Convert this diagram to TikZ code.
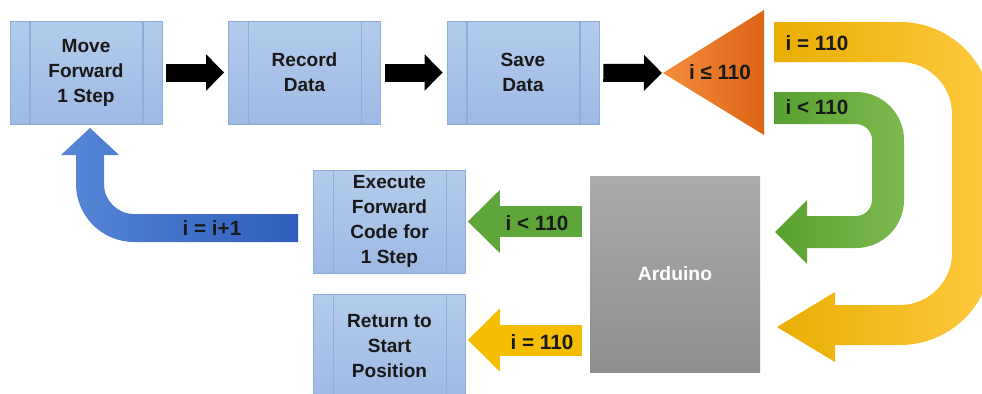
\documentclass[tikz,border=0pt]{standalone}
\usepackage{fontspec}
\setmainfont{Liberation Sans}
\usetikzlibrary{arrows.meta,positioning}

\definecolor{boxtop}{HTML}{B3CCEC}
\definecolor{boxbot}{HTML}{9DBAE3}
\definecolor{boxline}{HTML}{8DAEDA}
\definecolor{boardtop}{HTML}{ABABAB}
\definecolor{boardbot}{HTML}{8E8E8E}
\definecolor{condleft}{HTML}{F38D3C}
\definecolor{condright}{HTML}{DD6416}
\definecolor{goldleft}{HTML}{E8AE00}
\definecolor{goldright}{HTML}{FFC940}
\definecolor{leafleft}{HTML}{57A02F}
\definecolor{leafright}{HTML}{7CB94E}
\definecolor{skyleft}{HTML}{5787D6}
\definecolor{skyright}{HTML}{2F5DBD}
\definecolor{leaf}{HTML}{5EA63A}
\definecolor{gold}{HTML}{F5BD00}

\begin{document}
\begin{tikzpicture}[
  x=0.75pt, y=-0.75pt,
  every node/.style={align=center, inner sep=0pt, text=black!90,
    font=\bfseries\fontsize{14.3}{18.75}\selectfont},
  stepbox/.style={rectangle, draw=boxline, top color=boxtop, bottom color=boxbot,
    minimum width=114pt, minimum height=77.25pt,
    path picture={\draw[boxline, line width=0.8pt]
      ([xshift=15pt]path picture bounding box.north west) -- ([xshift=15pt]path picture bounding box.south west)
      ([xshift=-14.25pt]path picture bounding box.north east) -- ([xshift=-14.25pt]path picture bounding box.south east);}},
  board/.style={rectangle, top color=boardtop, bottom color=boardbot,
    minimum width=127.5pt, minimum height=147pt, text=white,
    font=\bfseries\fontsize{14.5}{17}\selectfont},
  pusharrow/.style={draw=black, line width=13.5pt,
    -{Triangle[length=13.5pt, width=26.25pt]}, shorten <=3pt, shorten >=3pt},
  sidearrow/.style={line width=23.25pt,
    -{Triangle[length=24pt, width=45.75pt]}, shorten <=6pt, shorten >=1.5pt},
  tag/.style={font=\bfseries\fontsize{15.5}{18}\selectfont}
]
\useasboundingbox (0,0) rectangle (982,393);
\clip (0,0) rectangle (982,393);

\path[left color=goldleft, right color=goldright]
  (774,22) -- (900,22) arc[start angle=90, end angle=0, radius=69pt]
  -- (992,253) arc[start angle=0, end angle=-90, radius=69pt]
  -- (835,345) -- (835,362) -- (777,327) -- (835,292) -- (835,305)
  -- (900,305) arc[start angle=-90, end angle=0, radius=39pt]
  -- (952,114) arc[start angle=0, end angle=90, radius=39pt]
  -- (774,62) -- cycle;
\path[left color=leafleft, right color=leafright]
  (774,92) -- (856,92) arc[start angle=90, end angle=0, radius=36pt]
  -- (904,200) arc[start angle=0, end angle=-90, radius=36pt]
  -- (807,248) -- (807,264) -- (775,232) -- (807,200) -- (807,216)
  -- (856,216) arc[start angle=-90, end angle=0, radius=12pt]
  -- (872,140) arc[start angle=0, end angle=90, radius=12pt]
  -- (774,124) -- cycle;
\path[left color=skyleft, right color=skyright]
  (298,214) -- (134,214) arc[start angle=-90, end angle=-180, radius=22.5pt]
  -- (104,155) -- (119,155) -- (90,128) -- (61,155) -- (76,155)
  -- (76,184) arc[start angle=180, end angle=270, radius=43.5pt]
  -- (298,242) -- cycle;
\path[left color=condleft, right color=condright]
  (663,73) -- (764,10) -- (764,135) -- cycle;
\coordinate (tip) at (663,73);

\node[stepbox] (move) at (86,72.5) {Move\\Forward\\1 Step};
\node[stepbox] (record) at (304.5,72.5) {Record\\Data};
\node[stepbox] (save) at (523,72.5) {Save\\Data};
\node[stepbox] (exec) at (389.5,221.5) {Execute\\Forward\\Code for\\1 Step};
\node[stepbox] (back) at (389.5,346) {Return to\\Start\\Position};
\node[board] (arduino) at (675,274) {Arduino};

\draw[pusharrow] (move) -- (record);
\draw[pusharrow] (record) -- (save);
\draw[pusharrow, shorten >=0.75pt] (save) -- (tip);
\draw[sidearrow, leaf] (arduino.west |- exec.east) -- (exec.east);
\draw[sidearrow, gold] ([yshift=4.5pt]arduino.west |- back.east) -- ([yshift=4.5pt]back.east);

\node[tag] (check) at (720,72) {i ≤ 110};
\node[tag] (done) at (817,43) {i = 110};
\node[tag] (more) at (817,107) {i < 110};
\node[tag] (count) at (212,228) {i = i+1};
\node[tag] (goon) at (537,223) {i < 110};
\node[tag] (stop) at (542,342) {i = 110};
\end{tikzpicture}
\end{document}
